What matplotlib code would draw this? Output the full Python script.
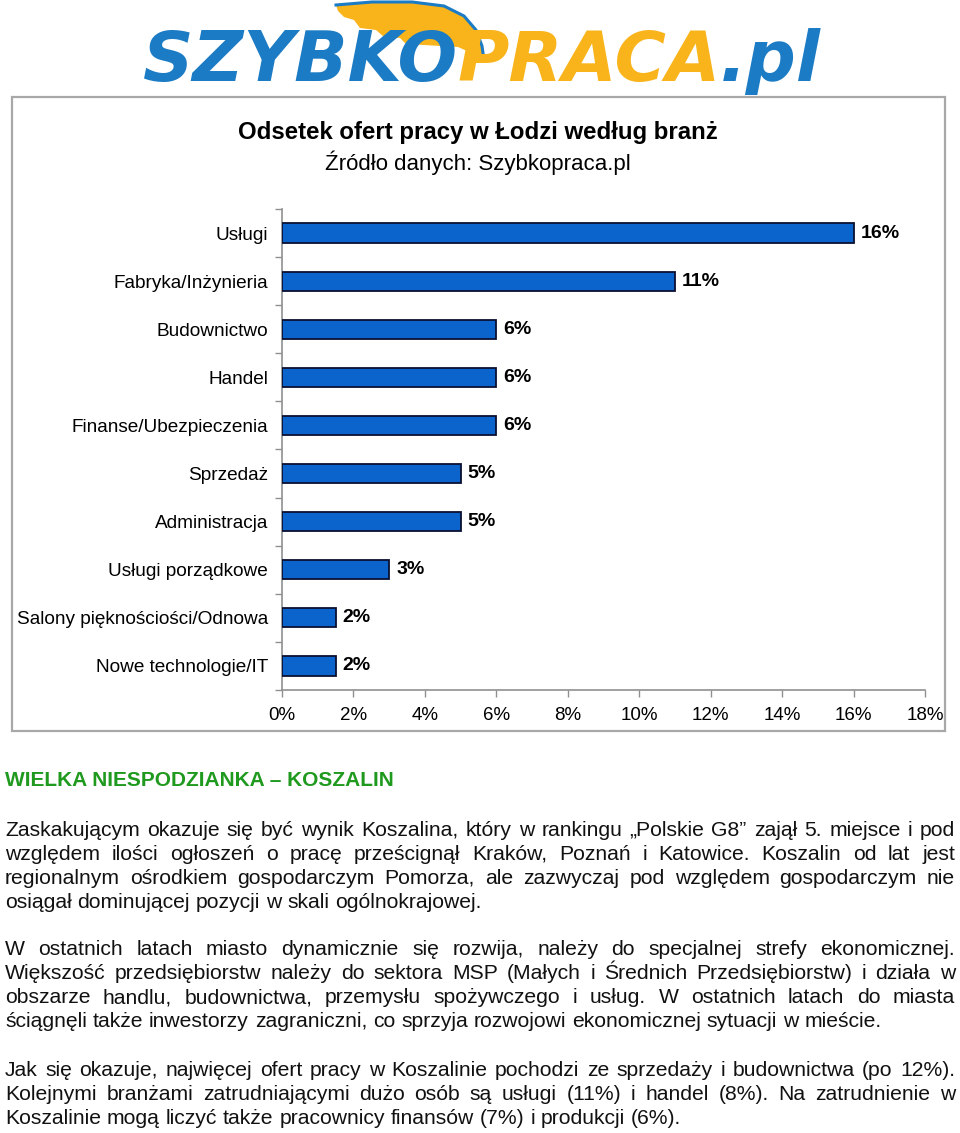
import numpy as np
import matplotlib
matplotlib.use('Agg')
import matplotlib.pyplot as plt
from matplotlib.patches import Polygon, Rectangle
from matplotlib.lines import Line2D
from matplotlib.transforms import Affine2D

plt.rcParams['font.family'] = ['Liberation Sans', 'DejaVu Sans']

# data
categories = ['Usługi', 'Fabryka/Inżynieria', 'Budownictwo', 'Handel',
              'Finanse/Ubezpieczenia', 'Sprzedaż', 'Administracja',
              'Usługi porządkowe', 'Salony pięknościości/Odnowa',
              'Nowe technologie/IT']
values = [16.0, 11.0, 6.0, 6.0, 6.0, 5.0, 5.0, 3.0, 1.5, 1.5]
value_labels = ['16%', '11%', '6%', '6%', '6%', '5%', '5%', '3%', '2%', '2%']
xticks = [0, 2, 4, 6, 8, 10, 12, 14, 16, 18]

title = 'Odsetek ofert pracy w Łodzi według branż'
subtitle = 'Źródło danych: Szybkopraca.pl'
heading = 'WIELKA NIESPODZIANKA – KOSZALIN'
paragraphs = [
    ['Zaskakującym okazuje się być wynik Koszalina, który w rankingu „Polskie G8” zajął 5. miejsce i pod',
     'względem ilości ogłoszeń o pracę prześcignął Kraków, Poznań i Katowice. Koszalin od lat jest',
     'regionalnym ośrodkiem gospodarczym Pomorza, ale zazwyczaj pod względem gospodarczym nie',
     'osiągał dominującej pozycji w skali ogólnokrajowej.'],
    ['W ostatnich latach miasto dynamicznie się rozwija, należy do specjalnej strefy ekonomicznej.',
     'Większość przedsiębiorstw należy do sektora MSP (Małych i Średnich Przedsiębiorstw) i działa w',
     'obszarze handlu, budownictwa, przemysłu spożywczego i usług. W ostatnich latach do miasta',
     'ściągnęli także inwestorzy zagraniczni, co sprzyja rozwojowi ekonomicznej sytuacji w mieście.'],
    ['Jak się okazuje, najwięcej ofert pracy w Koszalinie pochodzi ze sprzedaży i budownictwa (po 12%).',
     'Kolejnymi branżami zatrudniającymi dużo osób są usługi (11%) i handel (8%). Na zatrudnienie w',
     'Koszalinie mogą liczyć także pracownicy finansów (7%) i produkcji (6%).'],
]

W, H = 960, 1133
fig = plt.figure(figsize=(W / 100, H / 100), dpi=100)
fig.patch.set_facecolor('white')
renderer = fig.canvas.get_renderer()

def fx(px):
    return px / W

def fy(py):
    return 1 - py / H

tr_px = Affine2D().scale(1, -1).translate(0, H).scale(1 / 100) + fig.dpi_scale_trans

# ---- logo ----
blue = '#1b7bc4'
gold = '#f9b41b'

# wing (decoration, behind the letters)
wing = [(336, 5), (372, 2), (412, 2), (444, 6), (464, 16), (476, 30), (482, 46), (484, 60),
        (474, 54), (458, 47), (424, 45), (406, 44), (400, 38), (384, 37), (376, 30),
        (360, 28), (354, 20), (344, 17), (338, 11)]
fig.add_artist(Polygon(wing, closed=True, facecolor=gold, edgecolor='none',
                       transform=tr_px, zorder=1))
wx, wy = zip(*wing[:8])
fig.add_artist(Line2D(wx, wy, color=blue, lw=2.2, transform=tr_px, zorder=1))

x = 143
for part, col in [('SZYBKO', blue), ('PRACA', gold), ('.pl', blue)]:
    t = fig.text(fx(x), fy(81), part, ha='left', va='baseline', fontsize=50.5,
                 fontweight='bold', style='italic', family='DejaVu Sans', color=col, zorder=2)
    x += t.get_window_extent(renderer).width - 1

# ---- chart box ----
fig.add_artist(Rectangle((12, 97), 933, 634, transform=tr_px, facecolor='none',
                         edgecolor='#a8a8a8', lw=1.6))

fig.text(fx(478), fy(133), title, ha='center', va='center', fontsize=17.3, fontweight='bold')
fig.text(fx(478), fy(163), subtitle, ha='center', va='center', fontsize=16)

ax = fig.add_axes([fx(282), fy(690), fx(925) - fx(282), (690 - 209) / H])
y = np.arange(len(categories))
ax.barh(y, values, height=0.4, color='#0a64cc', edgecolor='#0a1030', lw=1.3, zorder=3)
for yi, v, lab in zip(y, values, value_labels):
    ax.annotate(lab, (v, yi), xytext=(5, 0), textcoords='offset points',
                va='center', ha='left', fontsize=14, fontweight='bold')
ax.set_ylim(len(categories) - 0.5, -0.5)
ax.set_xlim(0, 18)
ax.set_yticks(y)
ax.set_yticklabels(categories, fontsize=13.7)
ax.set_yticks(np.arange(-0.5, len(categories), 1), minor=True)
ax.tick_params(axis='y', which='major', length=0, pad=10)
ax.tick_params(axis='y', which='minor', length=5, color='#909090', width=1)
ax.set_xticks(xticks)
ax.set_xticklabels([f'{t}%' for t in xticks], fontsize=13.5)
ax.tick_params(axis='x', length=5, color='#909090', width=1, pad=7)
for s in ['top', 'right']:
    ax.spines[s].set_visible(False)
for s in ['left', 'bottom']:
    ax.spines[s].set_color('#909090')
    ax.spines[s].set_linewidth(1.2)

# ---- text below ----
fig.text(fx(5), fy(781), heading, ha='left', va='center', fontsize=15,
         fontweight='bold', color='#1f9a1f')

left, right = 5, 955
body_size = 15.2

def put_line(line, base, justify):
    words = line.split(' ')
    arts = [fig.text(0, fy(base), w, ha='left', va='baseline', fontsize=body_size,
                     color='#111111') for w in words]
    widths = [a.get_window_extent(renderer).width for a in arts]
    if justify and len(words) > 1:
        gap = (right - left - sum(widths)) / (len(words) - 1)
    else:
        sp = fig.text(0, 0, 'a a', fontsize=body_size)
        sa = fig.text(0, 0, 'aa', fontsize=body_size)
        gap = sp.get_window_extent(renderer).width - sa.get_window_extent(renderer).width
        sp.remove()
        sa.remove()
    xw = left
    for a, w in zip(arts, widths):
        a.set_x(fx(xw))
        xw += w + gap

starts = [836, 955, 1076]
for para, y0 in zip(paragraphs, starts):
    for i, line in enumerate(para):
        put_line(line, y0 + i * 24, i < len(para) - 1)

fig.savefig('out.png', dpi=100)
